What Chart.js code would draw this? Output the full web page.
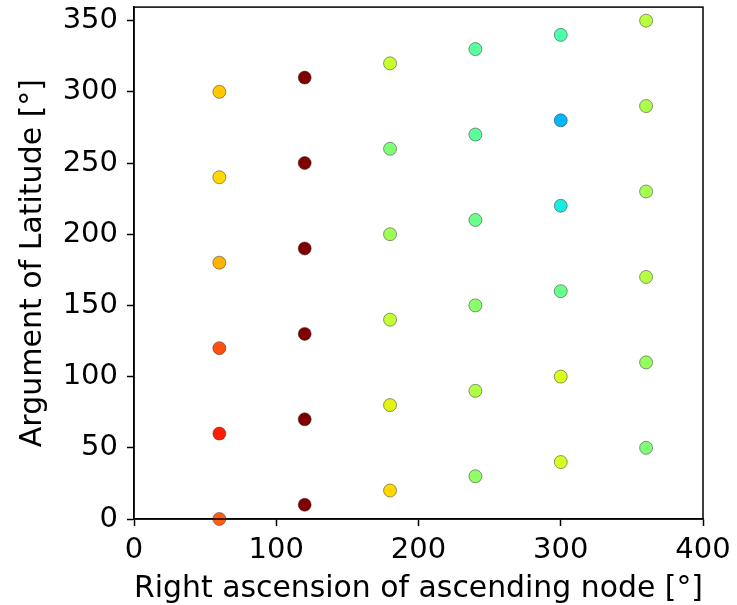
<!DOCTYPE html>
<html>
<head>
<meta charset="utf-8">
<script src="https://cdn.jsdelivr.net/npm/chart.js@4.4.0/dist/chart.umd.min.js"></script>
<style>
  html, body { margin: 0; padding: 0; background: #ffffff; }
  #wrap { width: 737px; height: 605px; }
</style>
</head>
<body>
<div id="wrap"><canvas id="chart-scatter" width="737" height="605"></canvas></div>
<script>
// values
var raan = [60, 60, 60, 60, 60, 60,
            120, 120, 120, 120, 120, 120,
            180, 180, 180, 180, 180, 180,
            240, 240, 240, 240, 240, 240,
            300, 300, 300, 300, 300, 300,
            360, 360, 360, 360, 360, 360];
var argLat = [0, 60, 120, 180, 240, 300,
              10, 70, 130, 190, 250, 310,
              20, 80, 140, 200, 260, 320,
              30, 90, 150, 210, 270, 330,
              40, 100, 160, 220, 280, 340,
              50, 110, 170, 230, 290, 350];
var pointColors = ['#ff6010', '#ff1c00', '#ff5010', '#ffb300', '#ffd800', '#ffc800',
                   '#800000', '#800000', '#800000', '#800000', '#800000', '#800000',
                   '#ffd800', '#e4f50c', '#c4ff33', '#a0ff57', '#80ff77', '#c8ff2f',
                   '#90ff66', '#b0ff46', '#8aff6c', '#6aff8c', '#5aff9c', '#5aff9c',
                   '#d4ff22', '#d8ff1e', '#6aff8c', '#16ece0', '#00b8f8', '#4cffaa',
                   '#80ff76', '#96ff60', '#b4ff42', '#a4ff52', '#acff4a', '#b8ff3e'];
var xTicks = [0, 100, 200, 300, 400];
var yTicks = [0, 50, 100, 150, 200, 250, 300, 350];

var FONT = 'DejaVu Sans, sans-serif';

var boxPlugin = {
  id: 'box',
  afterDraw: function (chart) {
    var a = chart.chartArea, c = chart.ctx;
    c.save();
    c.strokeStyle = '#000000';
    c.lineWidth = 1.5;
    c.strokeRect(a.left, a.top, a.right - a.left, a.bottom - a.top);
    c.restore();
  }
};

var pts = raan.map(function (x, i) { return { x: x, y: argLat[i] }; });

new Chart(document.getElementById('chart-scatter'), {
  type: 'scatter',
  data: {
    datasets: [{
      data: pts,
      backgroundColor: pointColors,
      borderColor: 'rgba(50,50,50,0.85)',
      borderWidth: 0.6,
      pointRadius: 6.5,
      pointHoverRadius: 6.5,
      clip: false
    }]
  },
  options: {
    responsive: false,
    animation: false,
    layout: { padding: { top: 7, right: 34, left: 0, bottom: 0 } },
    plugins: { legend: { display: false }, tooltip: { enabled: false } },
    scales: {
      x: {
        type: 'linear', min: 0, max: 400,
        afterBuildTicks: function (s) { s.ticks = xTicks.map(function (v) { return { value: v }; }); },
        afterFit: function (s) { s.height = 86; s.paddingLeft = 0; s.paddingRight = 0; },
        grid: { drawOnChartArea: false, color: '#000', tickLength: 7, tickWidth: 1.5 },
        border: { color: '#000', width: 1.5 },
        ticks: { color: '#000', font: { family: FONT, size: 29 }, padding: 7, maxRotation: 0 },
        title: { display: true, text: 'Right ascension of ascending node [°]', color: '#000', font: { family: FONT, size: 30, lineHeight: 1.05 }, padding: { top: 0, bottom: 0 } }
      },
      y: {
        type: 'linear', min: 0, max: 359.5,
        afterBuildTicks: function (s) { s.ticks = yTicks.map(function (v) { return { value: v }; }); },
        afterFit: function (s) { s.width = 134; s.paddingTop = 0; s.paddingBottom = 0; },
        grid: { drawOnChartArea: false, color: '#000', tickLength: 7, tickWidth: 1.5 },
        border: { color: '#000', width: 1.5 },
        ticks: { color: '#000', font: { family: FONT, size: 29 }, padding: 9 },
        title: { display: true, text: 'Argument of Latitude [°]', color: '#000', font: { family: FONT, size: 30 }, padding: { top: 15, bottom: 0 } }
      }
    }
  },
  plugins: [boxPlugin]
});
</script>
</body>
</html>
